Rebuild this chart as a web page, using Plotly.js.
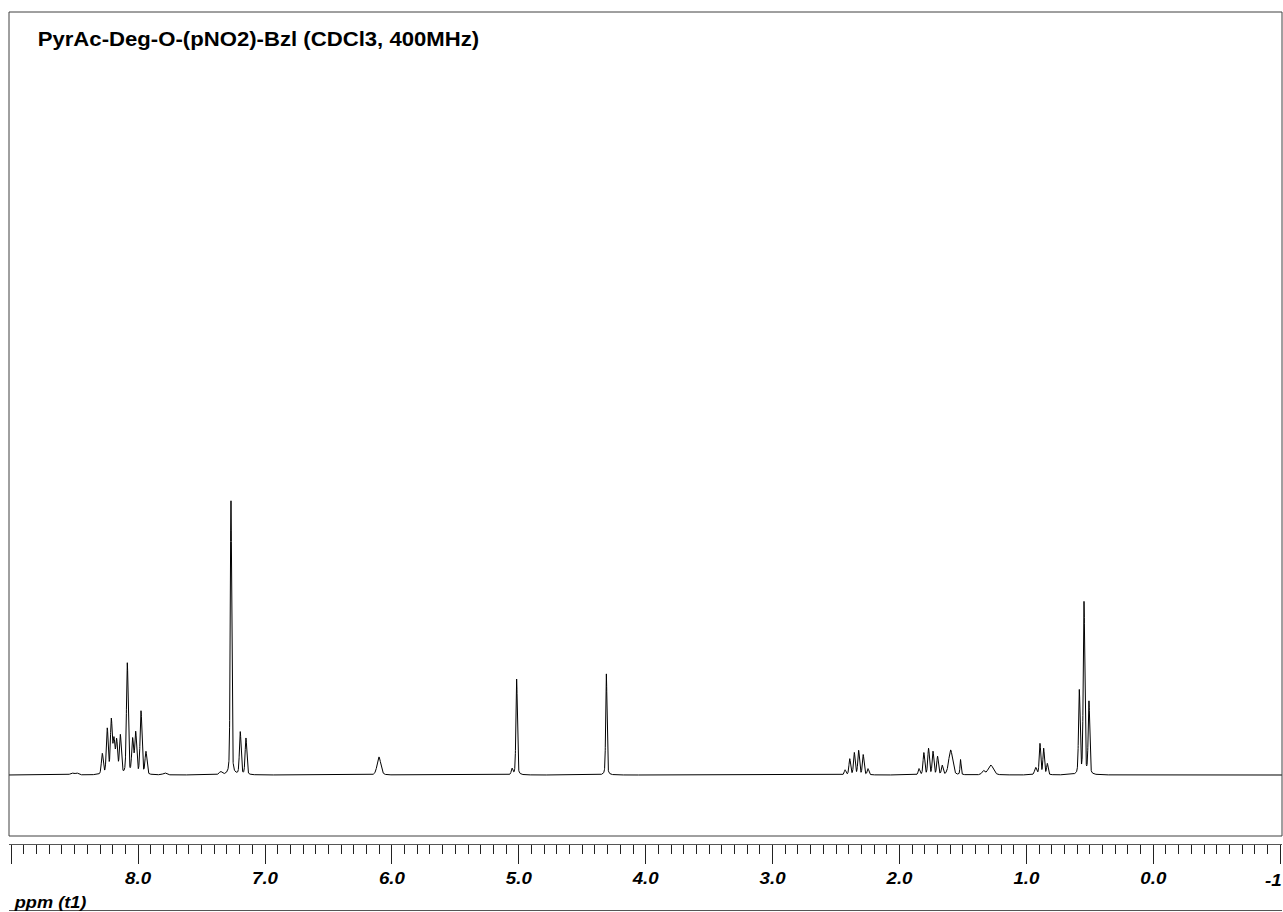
<!DOCTYPE html>
<html>
<head>
<meta charset="utf-8">
<script src="https://cdn.plot.ly/plotly-3.0.1.min.js"></script>
<style>
  html, body { margin: 0; padding: 0; background: #fff; }
  #spectrum { width: 1283px; height: 912px; }
</style>
</head>
<body>
<div id="spectrum"></div>
<script>
// 1H NMR peak list: chemical shift (ppm), relative intensity (CHCl3 = 100), line width FWHM (ppm)
const peakPpm = [
  8.523, 8.484,
  8.282, 8.243, 8.211, 8.190, 8.169, 8.140, 8.085, 8.043, 8.019, 7.977, 7.938,
  7.789, 7.350,
  7.268, 7.195, 7.150,
  6.102,
  5.053, 5.017,
  4.310,
  2.429, 2.392, 2.356, 2.322, 2.286, 2.248,
  1.846, 1.808, 1.771, 1.736, 1.700, 1.663,
  1.597, 1.519, 1.340, 1.281,
  0.927, 0.893, 0.864, 0.835,
  0.583, 0.546, 0.507
];
const peakHeight = [
  0.7, 0.7,
  7.5, 16.5, 19.5, 12.0, 12.0, 14.0, 40.5, 12.5, 15.0, 23.0, 8.2,
  0.7, 1.1,
  100.0, 15.5, 13.3,
  6.6,
  2.2, 35.0,
  36.9,
  1.8, 5.8, 8.0, 8.8, 7.3, 2.2,
  2.2, 8.0, 9.5, 8.4, 6.6, 3.3,
  9.1, 5.5, 1.5, 3.6,
  2.6, 11.3, 9.5, 4.0,
  30.5, 62.8, 26.4
];
const peakWidth = [
  0.030, 0.030,
  0.017, 0.017, 0.017, 0.017, 0.017, 0.017, 0.016, 0.017, 0.017, 0.017, 0.017,
  0.030, 0.025,
  0.013, 0.015, 0.015,
  0.034,
  0.015, 0.013,
  0.012,
  0.015, 0.015, 0.015, 0.015, 0.015, 0.015,
  0.015, 0.015, 0.015, 0.015, 0.015, 0.015,
  0.035, 0.010, 0.025, 0.048,
  0.020, 0.014, 0.014, 0.014,
  0.014, 0.014, 0.014
];

// Axis ticks (ppm) and their labels; the rightmost label sits flush with the edge
const tickValues = [9, 8, 7, 6, 5, 4, 3, 2, 1, 0, -1];
const tickLabels = ['', '8.0', '7.0', '6.0', '5.0', '4.0', '3.0', '2.0', '1.0', '0.0', ''];
const edgeLabel = '-1';

const titleText = 'PyrAc-Deg-O-(pNO2)-Bzl (CDCl3, 400MHz)';
const axisText = 'ppm (t1)';

// Pseudo-Voigt line shape (mostly Gaussian with a Lorentzian tail)
function lineShape(d, fwhm) {
  const u = 2 * d / fwhm;
  return 0.3 / (1 + u * u) + 0.7 * Math.exp(-Math.LN2 * u * u);
}

// Sample the spectrum across the shift window
const shift = [];
const intensity = [];
const step = 0.0005;
for (let p = 9.03; p >= -1.03; p -= step) {
  let s = 0;
  for (let i = 0; i < peakPpm.length; i++) {
    const d = p - peakPpm[i];
    if (Math.abs(d) < 1.0) s += peakHeight[i] * lineShape(d, peakWidth[i]);
  }
  shift.push(+p.toFixed(4));
  intensity.push(s);
}

const fontFamily = '"Liberation Sans", Arial, Helvetica, sans-serif';
const frameColor = '#404040';
const tickFont = { family: fontFamily, size: 16.5, weight: 'bold', style: 'italic', color: '#000' };
// horizontal widening applied to all lettering (plotter-style wide sans)
const letterWiden = 1.135;

const trace = {
  type: 'scatter',
  mode: 'lines',
  x: shift,
  y: intensity,
  line: { color: '#000', width: 1 },
  hoverinfo: 'skip'
};

const layout = {
  width: 1283,
  height: 912,
  margin: { l: 9, r: 1, t: 12, b: 68, pad: 0 },
  paper_bgcolor: '#ffffff',
  plot_bgcolor: '#ffffff',
  showlegend: false,
  title: {
    text: titleText,
    font: { family: fontFamily, size: 19.5, weight: 'bold', color: '#000' },
    xref: 'container', x: 37.7 / 1283, xanchor: 'left',
    yref: 'container', y: 1 - 39.5 / 912, yanchor: 'middle'
  },
  xaxis: {
    range: [9.0173, -1.0142],
    autorange: false,
    tickmode: 'array',
    tickvals: tickValues,
    ticktext: tickLabels,
    ticks: 'outside',
    ticklen: 19,
    tickwidth: 1,
    tickcolor: '#222',
    showline: true,
    linecolor: '#555',
    linewidth: 1,
    showgrid: false,
    zeroline: false,
    tickfont: tickFont,
    minor: {
      ticks: 'outside', ticklen: 9, tickwidth: 1, tickcolor: '#222',
      tickmode: 'linear', tick0: 0, dtick: 0.1, showgrid: false
    },
    fixedrange: true
  },
  yaxis: {
    visible: false,
    range: [-25.18, 278.47],
    autorange: false,
    fixedrange: true
  },
  shapes: [
    // spectrum frame
    { type: 'rect', xref: 'paper', yref: 'paper', x0: 0, x1: 1, y0: 8 / 832, y1: 1,
      line: { color: frameColor, width: 1 }, fillcolor: 'rgba(0,0,0,0)' },
    // lower rule
    { type: 'line', xref: 'paper', yref: 'paper', x0: 0, x1: 1, y0: -66.5 / 832, y1: -66.5 / 832,
      line: { color: '#555', width: 1 } }
  ],
  annotations: [
    { text: axisText, xref: 'paper', yref: 'paper', x: 7 / 1273, y: -59 / 832,
      xanchor: 'left', yanchor: 'middle', showarrow: false,
      font: { family: fontFamily, size: 16, weight: 'bold', style: 'italic', color: '#000' } },
    { text: edgeLabel, xref: 'paper', yref: 'paper', x: 1, y: -35.5 / 832,
      xanchor: 'right', yanchor: 'middle', showarrow: false, borderpad: 0,
      font: tickFont }
  ]
};

Plotly.newPlot('spectrum', [trace], layout, { displayModeBar: false, staticPlot: true })
  .then(function (gd) {
    // widen every text run horizontally, keeping its anchor
    gd.querySelectorAll('svg.main-svg text').forEach(function (t) {
      const w = t.getComputedTextLength();
      if (w > 0) {
        t.setAttribute('textLength', (w * letterWiden).toFixed(1));
        t.setAttribute('lengthAdjust', 'spacingAndGlyphs');
      }
    });
  });
</script>
</body>
</html>
